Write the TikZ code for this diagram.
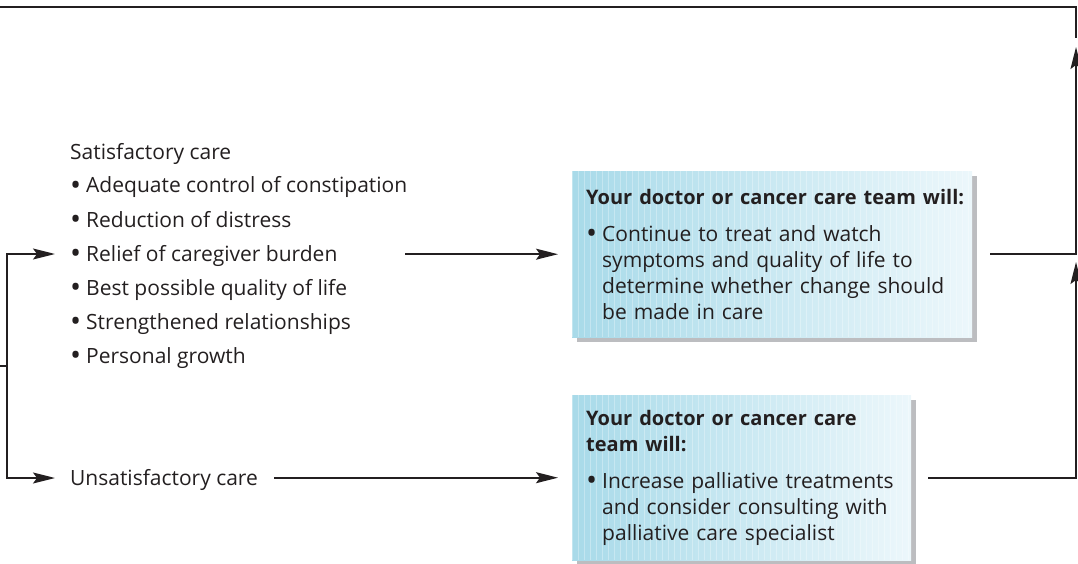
\documentclass[tikz,border=0pt]{standalone}
\usepackage{fontspec}
\usepackage{graphicx}
\setmainfont{Open Sans}
\usetikzlibrary{arrows.meta,shadows}
\definecolor{inkline}{RGB}{35,31,32}
\definecolor{boxblue}{RGB}{168,218,233}
\definecolor{boxpale}{RGB}{236,247,251}
\definecolor{shadowgrey}{RGB}{188,189,192}
\newcommand{\blt}{\makebox[16pt][l]{\raisebox{-2.5pt}{\scalebox{1.4}{\textbullet}}}}
\newcommand{\hang}{\hspace*{16pt}}
\newcommand{\headfont}{\fontsize{20}{26}\selectfont\bfseries}

\begin{document}
\begin{tikzpicture}[x=1pt,y=-1pt,
    every node/.style={font=\fontsize{21}{26}\selectfont, text=inkline},
    flow/.style={draw=inkline, line width=1.6pt},
    arr/.style={flow, -{Stealth[length=22pt,width=11pt,inset=4pt]}},
    item/.style={anchor=base west, inner sep=0pt},
    teambox/.style={anchor=north west, inner xsep=14pt, inner ysep=0pt, align=left,
        left color=boxblue, right color=boxpale,
        general shadow={fill=shadowgrey, shadow xshift=5pt, shadow yshift=-5pt},
        path picture={\foreach \s in {0,6,...,400}
            \draw[white, opacity=0.3, line width=0.6pt]
                ([xshift=\s pt]path picture bounding box.south west) --
                ([xshift=\s pt]path picture bounding box.north west);}}]
    \useasboundingbox (0,0) rectangle (1078,564);

    \node[item] (sat) at (70,160) {Satisfactory care};
    \foreach \name/\t [count=\i] in {adequate/Adequate control of constipation,
        distress/Reduction of distress, relief/Relief of caregiver burden,
        quality/Best possible quality of life, bonds/Strengthened relationships,
        growth/Personal growth}
        \node[item] (\name) at (70,159+34*\i) {\blt\t};
    \node[item] (unsat) at (70,485) {Unsatisfactory care};

    \node[teambox, text width=372pt, minimum height=166pt] (keep) at (572,171)
        {\mbox{\headfont Your doctor or cancer care team will:}\\[11pt]
         \blt Continue to treat and watch\\
         \hang symptoms and quality of life to\\
         \hang determine whether change should\\
         \hang be made in care};
    \node[teambox, text width=311pt, minimum height=165pt] (boost) at (572,395)
        {\mbox{\headfont Your doctor or cancer care}\\
         \mbox{\headfont team will:}\\[11pt]
         \blt Increase palliative treatments\\
         \hang and consider consulting with\\
         \hang palliative care specialist};

    \coordinate (ret) at (1076,47);
    \coordinate (rejoin) at (1076,262);
    \coordinate (loopin) at (1076,38);
    \coordinate (loopout) at (0,7);
    \coordinate (split) at (7,366);
    \coordinate (feed) at (0,366);

    \draw[flow] (loopin) |- (loopout);
    \draw[flow] (feed) -- (split);
    \draw[arr] (split) |- ([xshift=-15pt,yshift=7pt]relief.base west);
    \draw[arr] (split) |- ([xshift=-15pt,yshift=7pt]unsat.base west);
    \draw[arr] ([xshift=-167pt]keep.west) -- ([xshift=-14pt]keep.west);
    \draw[arr] ([xshift=16pt]unsat.east |- boost.west) -- ([xshift=-14pt]boost.west);
    \draw[arr] ([xshift=18pt]keep.east) -| (ret);
    \draw[arr] ([xshift=17pt]boost.east) -| (rejoin);
\end{tikzpicture}
\end{document}
